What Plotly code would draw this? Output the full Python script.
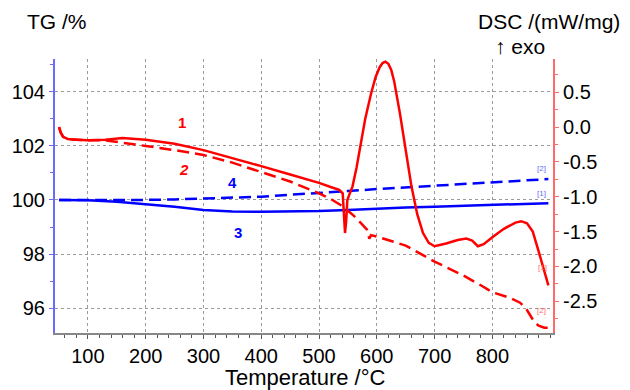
import plotly.graph_objects as go

# ---- data ----
tg_temp = [50, 100, 150, 200, 250, 300, 350, 400, 450, 500, 550, 600, 650, 700, 750, 800, 850, 897]
tg_solid = [100.0, 99.99, 99.93, 99.85, 99.75, 99.63, 99.57, 99.56, 99.57, 99.59, 99.63, 99.68, 99.72, 99.75, 99.78, 99.81, 99.84, 99.88]
tg_dashed = [100.0, 100.0, 99.98, 100.0, 100.02, 100.05, 100.08, 100.12, 100.19, 100.27, 100.33, 100.40, 100.46, 100.52, 100.59, 100.66, 100.71, 100.77]

dsc1_temp = [50, 53, 57, 65, 80, 100, 130, 160, 200, 250, 300, 350, 400, 450, 500, 520, 535, 541, 543, 545, 547, 549, 552,
             558, 565, 572, 580, 590, 598, 605, 610, 615, 620, 625, 630, 640, 650, 660, 670, 680, 690, 700, 720, 740, 755,
             765, 775, 785, 800, 820, 840, 850, 860, 870, 880, 890, 897]
dsc1_val = [0.0, -0.08, -0.14, -0.17, -0.18, -0.19, -0.18, -0.155, -0.18, -0.24, -0.33, -0.44, -0.56, -0.68, -0.80, -0.86,
            -0.90, -0.95, -1.2, -1.52, -1.35, -1.05, -0.98, -0.85, -0.58, -0.25, 0.12, 0.48, 0.72, 0.86, 0.92, 0.94, 0.91,
            0.82, 0.66, 0.2, -0.3, -0.85, -1.25, -1.52, -1.66, -1.71, -1.67, -1.62, -1.60, -1.63, -1.71, -1.68, -1.58,
            -1.46, -1.37, -1.35, -1.38, -1.50, -1.78, -2.05, -2.27]

dsc2_temp = [50, 53, 57, 65, 80, 100, 130, 160, 200, 250, 300, 350, 400, 450, 500, 520, 540, 560, 575, 583, 587, 590,
             600, 620, 650, 700, 750, 780, 800, 830, 848, 858, 866, 873, 880, 890, 897]
dsc2_val = [0.0, -0.08, -0.14, -0.17, -0.18, -0.19, -0.19, -0.22, -0.27, -0.33, -0.40, -0.51, -0.64, -0.78, -0.95, -1.03,
            -1.13, -1.27, -1.40, -1.47, -1.60, -1.55, -1.57, -1.62, -1.70, -1.93, -2.13, -2.27, -2.37, -2.45, -2.52,
            -2.60, -2.70, -2.80, -2.85, -2.88, -2.88]

x_ticks = [100, 200, 300, 400, 500, 600, 700, 800]
tg_ticks = [96, 98, 100, 102, 104]
dsc_ticks = [-2.5, -2.0, -1.5, -1.0, -0.5, 0.0, 0.5]
dsc_ticktext = ["-2.5", "-2.0", "-1.5", "-1.0", "-0.5", "0.0", "0.5"]

RED = "#ff0000"
BLUE = "#0000ff"
FONT = "Arial, Liberation Sans, sans-serif"

fig = go.Figure()
fig.add_trace(go.Scatter(x=tg_temp, y=tg_solid, mode="lines", line=dict(color=BLUE, width=2.5), yaxis="y"))
fig.add_trace(go.Scatter(x=tg_temp, y=tg_dashed, mode="lines", line=dict(color=BLUE, width=2.5, dash="12px,6px"), yaxis="y"))
fig.add_trace(go.Scatter(x=dsc1_temp, y=dsc1_val, mode="lines", line=dict(color=RED, width=2.5), yaxis="y2"))
fig.add_trace(go.Scatter(x=dsc2_temp, y=dsc2_val, mode="lines", line=dict(color=RED, width=2.5, dash="12px,6px"), yaxis="y2"))

fig.update_layout(
    width=630, height=390,
    margin=dict(l=50, r=77, t=59, b=57),
    paper_bgcolor="white", plot_bgcolor="white",
    showlegend=False,
    font=dict(family=FONT, size=20, color="black"),
    xaxis=dict(range=[43, 905], tickvals=x_ticks, showgrid=True, gridcolor="#9a9a9a", griddash="dot", gridwidth=1,
               showline=True, linecolor="#888888", linewidth=1.5, ticks="outside", ticklen=4, tickcolor="#555555",
               zeroline=False, tickfont=dict(size=20),
               minor=dict(dtick=20, tick0=0, ticks="outside", ticklen=3, tickcolor="#555555", showgrid=False)),
    yaxis=dict(range=[95.09, 105.2], tickvals=tg_ticks, showgrid=True, gridcolor="#9a9a9a", griddash="dot", gridwidth=1,
               showline=True, linecolor="#6a6aff", linewidth=2, ticks="outside", ticklen=4, tickcolor="#6a6aff",
               zeroline=False, tickfont=dict(size=20),
               minor=dict(dtick=1, tick0=0, ticks="outside", ticklen=3, tickcolor="#6a6aff", showgrid=False)),
    yaxis2=dict(range=[-2.955, 0.978], overlaying="y", side="right", tickvals=dsc_ticks, ticktext=dsc_ticktext,
                showgrid=False, showline=True, linecolor="#ff6a6a", linewidth=2, ticks="outside", ticklen=4,
                tickcolor="#ff6a6a", zeroline=False, tickfont=dict(size=20),
                minor=dict(dtick=0.25, tick0=0, ticks="outside", ticklen=3, tickcolor="#ff6a6a", showgrid=False)),
)

ann = []
ann.append(dict(text="TG /%", xref="paper", yref="paper", x=-0.0596, y=1.137, xanchor="left", yanchor="middle",
                showarrow=False, font=dict(size=21)))
ann.append(dict(text="DSC /(mW/mg)", xref="paper", yref="paper", x=1.139, y=1.137, xanchor="right", yanchor="middle",
                showarrow=False, font=dict(size=21)))
ann.append(dict(text="↑ exo", xref="paper", yref="paper", x=0.879, y=1.047, xanchor="left", yanchor="middle",
                showarrow=False, font=dict(size=21)))
ann.append(dict(text="Temperature /°C", xref="paper", yref="paper", x=0.503, y=-0.162, xanchor="center", yanchor="middle",
                showarrow=False, font=dict(size=22)))
# curve numbers
ann.append(dict(text="<b>1</b>", x=262, y=102.84, xref="x", yref="y", showarrow=False, font=dict(size=15, color=RED)))
ann.append(dict(text="<b><i>2</i></b>", x=266, y=101.14, xref="x", yref="y", showarrow=False, font=dict(size=15, color=RED)))
ann.append(dict(text="<b>4</b>", x=350, y=100.63, xref="x", yref="y", showarrow=False, font=dict(size=15, color=BLUE)))
ann.append(dict(text="<b>3</b>", x=360, y=98.78, xref="x", yref="y", showarrow=False, font=dict(size=15, color=BLUE)))
# small end markers
ann.append(dict(text="[2]", xref="paper", yref="paper", x=(548 - 50) / 503, y=(333 - 168) / 274, showarrow=False,
                font=dict(size=8, color="#6a6aff")))
ann.append(dict(text="[1]", xref="paper", yref="paper", x=(548 - 50) / 503, y=(333 - 193) / 274, showarrow=False,
                font=dict(size=8, color="#6a6aff")))
ann.append(dict(text="[1]", xref="paper", yref="paper", x=(549 - 50) / 503, y=(333 - 274) / 274, showarrow=False,
                font=dict(size=8, color="#ff6a6a")))
ann.append(dict(text="[2]", xref="paper", yref="paper", x=(548 - 50) / 503, y=(333 - 317) / 274, showarrow=False,
                font=dict(size=8, color="#ff6a6a")))
fig.update_layout(annotations=ann)

fig.write_html("out.html")
